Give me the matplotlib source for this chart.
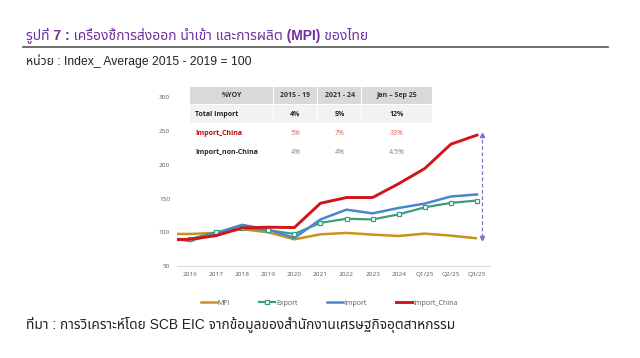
import matplotlib
matplotlib.use("Agg")
import matplotlib.pyplot as plt
from matplotlib.lines import Line2D
from matplotlib.patches import Rectangle
import numpy as np

W, H = 640, 358
THAI = ['Liberation Sans', 'Noto Sans Thai']
SMALL = ['Open Sans', 'DejaVu Sans']

# ---------------- data ----------------
categories = ["2016", "2017", "2018", "2019", "2020", "2021", "2022", "2023",
              "2024", "Q1/25", "Q2/25", "Q3/25"]
# value where each line enters the plot at its left edge
start_mpi, start_export, start_import, start_china = 97.5, 90, 90, 89
mpi = [97.5, 99, 104.5, 100, 89.5, 97, 99, 96.5, 94.5, 98, 95, 91]
export = [90, 100, 106, 103, 97.5, 114, 120, 119, 126.5, 137, 143.5, 147]
imports = [87, 99, 111, 104, 91.5, 119, 133.5, 128, 136, 142.5, 153, 156]
import_china = [89.5, 95, 106.5, 107.5, 107, 143, 151.5, 151.5, 172, 194.5, 230.5, 244]
yticks = [50, 100, 150, 200, 250, 300]

table_header = ["%YOY", "2015 - 19", "2021 - 24", "Jan \u2013 Sep 25"]
table_rows = ["Total Import", "Import_China", "Import_non-China"]
table_values = [["4%", "5%", "12%"],
                ["5%", "7%", "33%"],
                ["4%", "4%", "4.5%"]]

title = "รูปที่ 7 : เครื่องชี้การส่งออก นำเข้า และการผลิต (MPI) ของไทย"
unit = "หน่วย : Index_ Average 2015 - 2019 = 100"
source = "ที่มา : การวิเคราะห์โดย SCB EIC จากข้อมูลของสำนักงานเศรษฐกิจอุตสาหกรรม"

C_MPI = "#C9921C"
C_EXP = "#3C9C7C"
C_IMP = "#4A86CF"
C_CHN = "#D0161A"
C_ARROW = "#8070C8"

def fx(px):
    return px / W

def fy(py):
    return 1 - py / H

fig = plt.figure(figsize=(W / 100, H / 100), dpi=100)

# ---------------- header / footer texts ----------------
fig.text(fx(26), fy(35), title, family=THAI, fontsize=10, fontweight='bold',
         color="#7030A0", va='center', ha='left')
fig.add_artist(Line2D([fx(23), fx(608)], [fy(47), fy(47)], color="#555555", lw=1.2))
fig.text(fx(26), fy(61), unit, family=THAI, fontsize=8.7, color="#222222",
         va='center', ha='left')
fig.text(fx(26), fy(325), source, family=THAI, fontsize=9.9, color="#222222",
         va='center', ha='left')

# ---------------- chart ----------------
ax = fig.add_axes([fx(177), fy(266), fx(490) - fx(177), fy(97.3) - fy(266)])
x = np.arange(len(categories))
x0 = x[0] - 0.5
xs = np.r_[x0, x]

ax.plot(xs, [start_mpi] + mpi, color=C_MPI, lw=1.8, solid_capstyle='butt', zorder=3)
ax.plot(xs, [start_export] + export, color=C_EXP, lw=1.6, zorder=4)
ax.plot(x, export, linestyle='none', marker='s', ms=3.2, mfc='white', mec=C_EXP,
        mew=0.9, zorder=5)
ax.plot(xs, [start_import] + imports, color=C_IMP, lw=1.8, zorder=4)
ax.plot(xs, [start_china] + import_china, color=C_CHN, lw=2.1, zorder=6)

# difference arrow at the last period
xa = x[-1] + 0.18
ax.vlines(xa, mpi[-1] + 2, import_china[-1] - 2, colors=C_ARROW, linestyles=(0, (3, 2)), lw=0.9, zorder=2)
ax.plot([xa], [import_china[-1] - 0.5], marker='^', ms=3, color=C_ARROW, zorder=2)
ax.plot([xa], [mpi[-1] + 0.5], marker='v', ms=3, color=C_ARROW, zorder=2)

ax.set_xlim(-0.5, len(categories) - 0.5)
ax.set_ylim(50, 300)
ax.set_yticks(yticks)
ax.set_yticklabels([str(v) for v in yticks])
ax.set_xticks(x)
ax.set_xticklabels(categories)
for s in ['top', 'right', 'left']:
    ax.spines[s].set_visible(False)
ax.spines['bottom'].set_color("#D9D9D9")
ax.spines['bottom'].set_linewidth(0.8)
ax.tick_params(axis='both', length=0, colors="#595959", labelsize=4.6)
ax.tick_params(axis='y', pad=5)
ax.tick_params(axis='x', pad=4.5)
for lab in ax.get_xticklabels() + ax.get_yticklabels():
    lab.set_family(SMALL)
ax.set_facecolor('none')

# ---------------- table ----------------
col_edges = [190, 273.3, 317.7, 361.7, 432]
row_edges = [86.7, 105, 124, 143, 162]
row_bg = ["#D9D9D9", "#F2F2F2", None, None]
for r in range(4):
    if row_bg[r] is None:
        continue
    for c in range(4):
        x_left = col_edges[c] + (0.5 if c > 0 else 0)
        x_right = col_edges[c + 1] - (0.5 if c < 3 else 0)
        fig.add_artist(Rectangle((fx(x_left), fy(row_edges[r + 1] - 0.5)),
                                 fx(x_right) - fx(x_left),
                                 fy(row_edges[r]) - fy(row_edges[r + 1] - 0.5),
                                 facecolor=row_bg[r], edgecolor='none', zorder=1))

col_centers = [(col_edges[i] + col_edges[i + 1]) / 2 for i in range(4)]
row_centers = [(row_edges[i] + row_edges[i + 1]) / 2 for i in range(4)]
TS = 5.0
for c, h in enumerate(table_header):
    fig.text(fx(col_centers[c]), fy(row_centers[0]), h, family=SMALL, fontsize=TS,
             fontweight='bold', color="#333333", ha='center', va='center')
label_colors = ["#222222", "#C00000", "#262626"]
value_colors = ["#222222", "#E06060", "#808080"]
value_weights = ['bold', 'normal', 'normal']
for r, name in enumerate(table_rows):
    yc = fy(row_centers[r + 1])
    fig.text(fx(195), yc, name, family=SMALL, fontsize=TS, fontweight='bold',
             color=label_colors[r], ha='left', va='center')
    for c, v in enumerate(table_values[r]):
        fig.text(fx(col_centers[c + 1]), yc, v, family=SMALL, fontsize=TS,
                 fontweight=value_weights[r], color=value_colors[r],
                 ha='center', va='center')

# ---------------- legend ----------------
handles = [
    Line2D([], [], color=C_MPI, lw=1.8),
    Line2D([], [], color=C_EXP, lw=1.6, marker='s', ms=3.2, mfc='white', mec=C_EXP, mew=0.9),
    Line2D([], [], color=C_IMP, lw=1.8),
    Line2D([], [], color=C_CHN, lw=2.1),
]
leg = fig.legend(handles, ["MPI", "Export", "Import", "Import_China"],
                 loc='center', bbox_to_anchor=(fx(329), fy(303.3)), ncol=4,
                 frameon=False, prop={'family': SMALL, 'size': 5},
                 handlelength=2.3, handletextpad=0.1, columnspacing=4.3,
                 labelcolor="#595959")

fig.savefig("out.png", dpi=100)
